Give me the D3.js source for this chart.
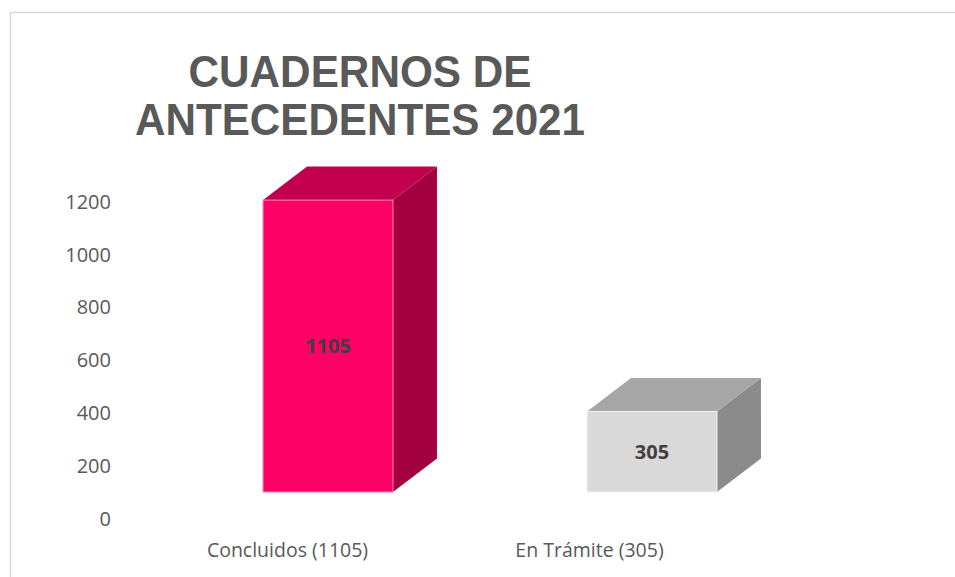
<!DOCTYPE html>
<html>
<head>
<meta charset="utf-8">
<script src="https://cdn.jsdelivr.net/npm/d3@7/dist/d3.min.js"></script>
<style>
  html, body { margin: 0; padding: 0; background: #ffffff; }
  svg { display: block; }
</style>
</head>
<body>
<svg id="chart" width="955" height="577"></svg>
<script>
// ---- data ----
const titleLines = ["CUADERNOS DE", "ANTECEDENTES 2021"];
const categories = ["Concluidos (1105)", "En Trámite (305)"];
const values = [1105, 305];
const dataLabels = ["1105", "305"];
const yTicks = [0, 200, 400, 600, 800, 1000, 1200];

// ---- styles ----
const frontColors = ["#FF0066", "#D9D9D9"];
const topColors = ["#C2004E", "#A6A6A6"];
const sideColors = ["#A3003F", "#8B8B8B"];
const edgeColors = ["#FF7FAF", "#F2F2F2"];
const textGray = "#595959";

const W = 955, H = 577;
const svg = d3.select("#chart");

// chart area frame
svg.append("rect")
  .attr("x", 10.5).attr("y", 12.5)
  .attr("width", W + 20).attr("height", H + 20)
  .attr("fill", "#ffffff")
  .attr("stroke", "#D9D9D9")
  .attr("stroke-width", 1.5);

// title
const titleG = svg.append("g");
const titleLens = [343, 450];
titleG.selectAll("text")
  .data(titleLines)
  .join("text")
  .attr("x", 360)
  .attr("y", (d, i) => 87 + i * 47.5)
  .attr("text-anchor", "middle")
  .attr("font-family", "'Liberation Sans', Arial, sans-serif")
  .attr("font-weight", "bold")
  .attr("font-size", 45)
  .attr("textLength", (d, i) => titleLens[i])
  .attr("lengthAdjust", "spacingAndGlyphs")
  .attr("fill", textGray)
  .text(d => d);

// ---- scales ----
const yAxisScale = d3.scaleLinear().domain([0, 1200]).range([518, 201]);
const floorY = 492;
const yBar = d3.scaleLinear().domain([0, 1200]).range([floorY, floorY - 317]);
const xBar = d3.scaleBand().domain(categories).range([166, 814])
  .paddingInner(0.599).paddingOuter(0.2995);
const xLabel = d3.scaleBand().domain(categories).range([136.5, 740.5]);
const depthX = 44, depthY = -33.5;

// y axis labels
const yAxis = d3.axisLeft(yAxisScale).tickValues(yTicks).tickSize(0).tickPadding(0)
  .tickFormat(d3.format("d"));
const yG = svg.append("g").attr("transform", "translate(111,0)").call(yAxis);
yG.select(".domain").remove();
yG.selectAll("text")
  .attr("font-family", "'Open Sans', sans-serif")
  .attr("font-size", 20)
  .attr("fill", textGray)
  .attr("dy", "0.36em");

// bars (3D boxes)
const bars = svg.append("g").selectAll("g")
  .data(values.map((v, i) => ({ v, i, cat: categories[i] })))
  .join("g");

bars.each(function(d) {
  const g = d3.select(this);
  const x0 = xBar(d.cat), x1 = x0 + xBar.bandwidth();
  const yT = yBar(d.v), yB = yBar(0);
  // side face
  g.append("polygon")
    .attr("points", [[x1, yT], [x1 + depthX, yT + depthY], [x1 + depthX, yB + depthY], [x1, yB]].join(" "))
    .attr("fill", sideColors[d.i]);
  // top face
  g.append("polygon")
    .attr("points", [[x0, yT], [x0 + depthX, yT + depthY], [x1 + depthX, yT + depthY], [x1, yT]].join(" "))
    .attr("fill", topColors[d.i]);
  // front face
  g.append("rect")
    .attr("x", x0).attr("y", yT)
    .attr("width", x1 - x0).attr("height", yB - yT)
    .attr("fill", frontColors[d.i])
    .attr("stroke", edgeColors[d.i])
    .attr("stroke-width", 1);
  // data label
  g.append("text")
    .attr("x", (x0 + x1) / 2)
    .attr("y", (yT + yB) / 2)
    .attr("dy", "0.36em")
    .attr("text-anchor", "middle")
    .attr("font-family", "'Open Sans', sans-serif")
    .attr("font-weight", "bold")
    .attr("font-size", 20)
    .attr("fill", "#404040")
    .text(dataLabels[d.i]);
});

// category labels
svg.append("g").selectAll("text")
  .data(categories)
  .join("text")
  .attr("x", d => xLabel(d) + xLabel.bandwidth() / 2)
  .attr("y", 557)
  .attr("text-anchor", "middle")
  .attr("font-family", "'Open Sans', sans-serif")
  .attr("font-size", 19.5)
  .attr("fill", textGray)
  .text(d => d);
</script>
</body>
</html>
